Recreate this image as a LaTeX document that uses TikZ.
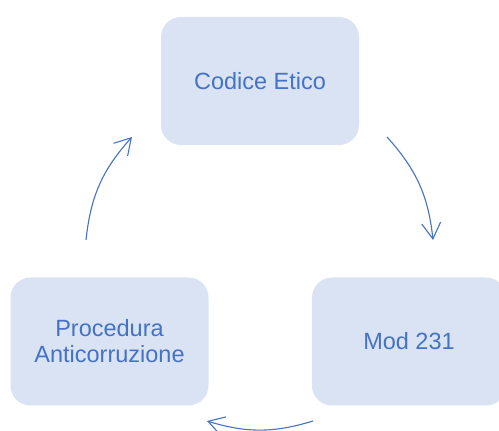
\documentclass[tikz,border=0pt]{standalone}
\usepackage{fontspec}
\setmainfont{Liberation Sans}
\usetikzlibrary{arrows.meta}
\definecolor{boxfill}{HTML}{DAE3F3}
\definecolor{ink}{HTML}{4472C4}
\tikzset{
  stepbox/.style={fill=boxfill, draw=none, rounded corners=20pt, minimum width=198pt, minimum height=128pt, inner sep=0pt, text=ink, align=center, font=\fontsize{23.5}{26}\selectfont},
  cyc/.style={draw=ink, line width=1.1pt, -{Straight Barb[length=16pt,width=19pt,line width=1.1pt]}}
}
\begin{document}
\begin{tikzpicture}[x=1pt,y=1pt]
\useasboundingbox (0,0) rectangle (499,431);
\begin{scope}
\clip (0,0) rectangle (499,431);
\node[stepbox] (ce) at (260,350) {Codice Etico};
\node[stepbox, minimum width=194pt] (mod) at (409,89.5) {Mod 231};
\node[stepbox] (pa) at (109.5,89.5) {Procedura\\Anticorruzione};
\end{scope}
\coordinate (r1) at (387,294);
\coordinate (r2) at (433,191);
\coordinate (b1) at (313,10);
\coordinate (b2) at (207,10);
\coordinate (l1) at (86,191);
\coordinate (l2) at (132,294);
\draw[cyc] (r1) to[bend left=18] (r2);
\draw[cyc] (b1) to[bend left=17] (b2);
\draw[cyc] (l1) to[bend left=18] (l2);
\end{tikzpicture}
\end{document}
